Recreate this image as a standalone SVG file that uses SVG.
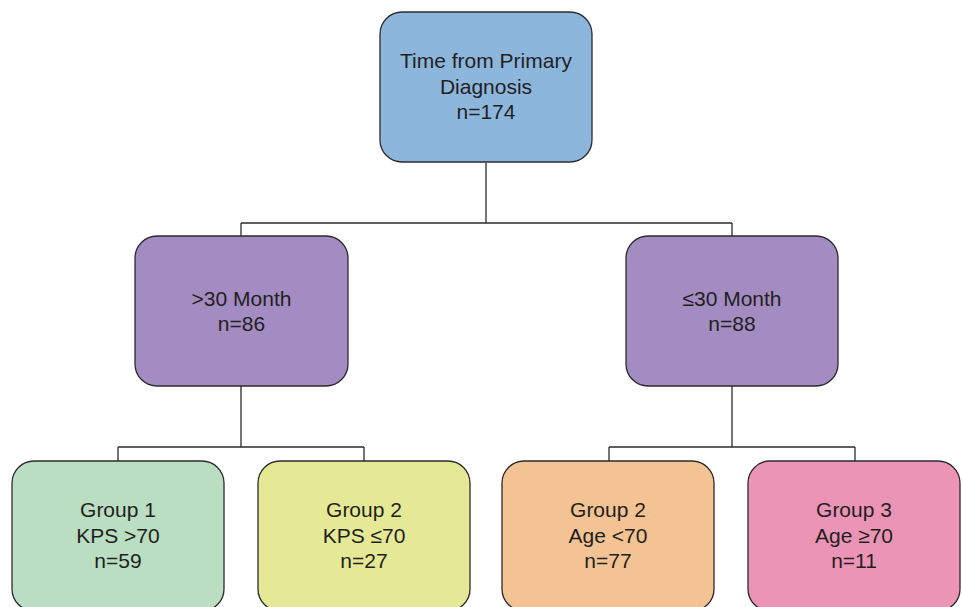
<svg xmlns="http://www.w3.org/2000/svg" width="962" height="607" viewBox="0 0 962 607">
<style>
.box{stroke:#2b2b2b;stroke-width:1.3}
.t{font-family:"Liberation Sans",Arial,sans-serif;font-size:21px;fill:#231f20;text-anchor:middle}
.c{fill:none;stroke:#2b2b2b;stroke-width:1.3}
</style>
<rect width="962" height="607" fill="#ffffff"/>
<g id="connectors">
<path class="c" d="M486,163 V223 M241,223 H732 M241,223 V236 M732,223 V236"/>
<path class="c" d="M241,386 V447 M118,447 H364 M118,447 V461 M364,447 V461"/>
<path class="c" d="M732,386 V447 M609,447 H855 M609,447 V461 M855,447 V461"/>
</g>
<g id="root">
<rect class="box" x="380" y="12" width="212" height="150" rx="22" fill="#8db6dd"/>
<text class="t" x="486" y="68">Time from Primary</text>
<text class="t" x="486" y="93.5">Diagnosis</text>
<text class="t" x="486" y="119">n=174</text>
</g>
<g id="gt30">
<rect class="box" x="135" y="236" width="213" height="150" rx="22" fill="#a38cc1"/>
<text class="t" x="241.5" y="306">&gt;30 Month</text>
<text class="t" x="241.5" y="331">n=86</text>
</g>
<g id="le30">
<rect class="box" x="626" y="236" width="212" height="150" rx="22" fill="#a38cc1"/>
<text class="t" x="732" y="306">≤30 Month</text>
<text class="t" x="732" y="331">n=88</text>
</g>
<g id="group1">
<rect class="box" x="12" y="461" width="212" height="150" rx="22" fill="#badec1"/>
<text class="t" x="118" y="517">Group 1</text>
<text class="t" x="118" y="542.5">KPS &gt;70</text>
<text class="t" x="118" y="568">n=59</text>
</g>
<g id="group2kps">
<rect class="box" x="258" y="461" width="212" height="150" rx="22" fill="#e5e995"/>
<text class="t" x="364" y="517">Group 2</text>
<text class="t" x="364" y="542.5">KPS ≤70</text>
<text class="t" x="364" y="568">n=27</text>
</g>
<g id="group2age">
<rect class="box" x="502" y="461" width="212" height="150" rx="22" fill="#f4c393"/>
<text class="t" x="608" y="517">Group 2</text>
<text class="t" x="608" y="542.5">Age &lt;70</text>
<text class="t" x="608" y="568">n=77</text>
</g>
<g id="group3">
<rect class="box" x="748" y="461" width="212" height="150" rx="22" fill="#ec94b6"/>
<text class="t" x="854" y="517">Group 3</text>
<text class="t" x="854" y="542.5">Age ≥70</text>
<text class="t" x="854" y="568">n=11</text>
</g>
</svg>
